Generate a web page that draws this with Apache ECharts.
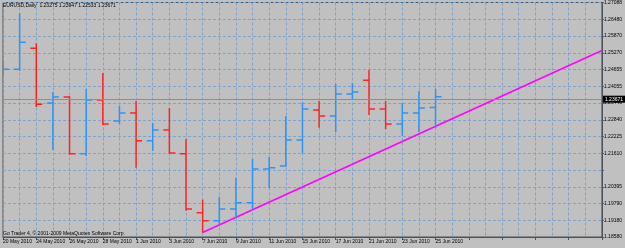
<!DOCTYPE html>
<html>
<head>
<meta charset="utf-8">
<script src="https://cdn.jsdelivr.net/npm/echarts/dist/echarts.min.js"></script>
<style>
html,body{margin:0;padding:0;background:#c0c0c0;}
#chart{width:625px;height:248px;}
</style>
</head>
<body>
<div id="chart"></div>
<script>
// ---- data ----
const dates = ["2010.05.20","2010.05.21","2010.05.24","2010.05.25","2010.05.26","2010.05.27","2010.05.28","2010.05.31","2010.06.01","2010.06.02","2010.06.03","2010.06.04","2010.06.07","2010.06.08","2010.06.09","2010.06.10","2010.06.11","2010.06.14","2010.06.15","2010.06.16","2010.06.17","2010.06.18","2010.06.21","2010.06.22","2010.06.23","2010.06.24","2010.06.25"];
const opens  = [1.2456,1.2467,1.2543,1.2344,1.2366,1.2160,1.2355,1.2279,1.2308,1.2207,1.2246,1.2160,1.1946,1.1917,1.1960,1.1982,1.2105,1.2116,1.2210,1.2319,1.2297,1.2377,1.2427,1.2322,1.2268,1.2308,1.23275];
const highs  = [1.2500,1.2670,1.2561,1.2384,1.2369,1.2395,1.2453,1.2333,1.2351,1.2272,1.2326,1.2214,1.1993,1.2004,1.2073,1.2141,1.2149,1.2297,1.2348,1.2351,1.2413,1.2416,1.2464,1.2351,1.2344,1.2388,1.23947];
const lows   = [1.2445,1.2460,1.2330,1.2174,1.2156,1.2152,1.2264,1.2268,1.2109,1.2170,1.2160,1.1953,1.1874,1.1903,1.1928,1.1957,1.2036,1.2114,1.2163,1.2254,1.2239,1.2355,1.2301,1.2250,1.2225,1.2239,1.22533];
const closes = [1.2467,1.2565,1.2340,1.2366,1.2160,1.2355,1.2268,1.2308,1.2207,1.2246,1.2163,1.1960,1.1917,1.1960,1.1982,1.2105,1.2109,1.2210,1.2322,1.2297,1.2377,1.2384,1.2322,1.2268,1.2308,1.2326,1.23671];
const trendX = [12, 36];
const trendY = [1.1874, 1.2535];
const bidPrice = 1.23671;
const xTickLabels = ["20 May 2010","24 May 2010","26 May 2010","28 May 2010","1 Jun 2010","3 Jun 2010","7 Jun 2010","9 Jun 2010","11 Jun 2010","15 Jun 2010","17 Jun 2010","21 Jun 2010","23 Jun 2010","25 Jun 2010"];
const yTickLabels = ["1.18580","1.19180","1.19790","1.20395","","1.21610","1.22225","1.22840","1.23440","1.24055","1.24655","1.25270","1.25870","1.26480","1.27088"];
const Y_BASE = 1.18580;
const Y_STEP = 0.006077;
const X_MAX = 36;

// ---- style ----
const BLUE = '#2f93f3';
const RED = '#ff2424';
const GRID = '#7ea4c9';
const FRAME = '#4a535c';
const FONT = 'Liberation Sans';
const FS = 5;

const ohlc = dates.map((d, i) => [i, opens[i] - Y_BASE, highs[i] - Y_BASE, lows[i] - Y_BASE, closes[i] - Y_BASE]);
const trend = trendX.map((x, i) => [x, trendY[i] - Y_BASE]);
const n = opens.length - 1;
const titleText = 'EURUSD,Daily  ' + [opens[n], highs[n], lows[n], closes[n]].map(v => v.toFixed(5)).join(' ');

const chart = echarts.init(document.getElementById('chart'), null, {renderer: 'canvas'});
chart.setOption({
  animation: false,
  backgroundColor: '#c0c0c0',
  title: [
    {text: titleText, left: 3, top: 3, padding: 0,
     textStyle: {fontSize: FS, fontWeight: 'normal', color: '#000', fontFamily: FONT}},
    {text: 'Go Trader 4, \u00a9 2001-2009 MetaQuotes Software Corp.', left: 3, top: 231, padding: 0,
     textStyle: {fontSize: FS, fontWeight: 'normal', color: '#000', fontFamily: FONT}}
  ],
  grid: {left: 1.5, right: 19, top: 2, bottom: 11, show: true, borderColor: FRAME, borderWidth: 1, backgroundColor: 'transparent'},
  xAxis: {
    type: 'value', min: 0, max: X_MAX, interval: 2, position: 'bottom',
    axisLine: {show: true, onZero: false, lineStyle: {color: FRAME, width: 1}},
    axisTick: {show: true, length: 3, lineStyle: {color: FRAME}},
    minorTick: {show: false, splitNumber: 2},
    axisLabel: {
      show: true, margin: 2, align: 'left', fontSize: FS, color: '#000', fontFamily: FONT,
      formatter: v => { const k = Math.round(v / 2); return (k < xTickLabels.length && v <= n) ? xTickLabels[k] : ''; }
    },
    splitLine: {show: true, lineStyle: {color: GRID, type: [3, 2], width: 1}},
    minorSplitLine: {show: true, lineStyle: {color: GRID, type: [3, 2], width: 1}}
  },
  yAxis: {
    type: 'value', position: 'right', min: 0, max: 14 * Y_STEP, interval: Y_STEP, scale: false,
    axisLine: {show: true, onZero: false, lineStyle: {color: FRAME, width: 1}},
    axisTick: {show: true, length: 2, lineStyle: {color: FRAME}},
    axisLabel: {
      show: true, margin: 2, fontSize: FS, color: '#000', fontFamily: FONT,
      formatter: v => yTickLabels[Math.round(v / Y_STEP)] || ''
    },
    splitLine: {show: true, lineStyle: {color: GRID, type: [3, 2], width: 1}}
  },
  series: [
    {
      type: 'line', data: trend, symbol: 'none', silent: true, z: 1,
      lineStyle: {color: '#ff00ff', width: 1.6},
      markLine: {
        silent: true, symbol: 'none', animation: false,
        data: [{yAxis: bidPrice - Y_BASE}],
        lineStyle: {color: '#7a92aa', type: 'solid', width: 1},
        label: {show: true, position: 'end', distance: 1, formatter: bidPrice.toFixed(5),
                backgroundColor: '#000', color: '#fff', fontSize: FS, fontFamily: FONT, padding: [1, 2]}
      }
    },
    {
      type: 'custom', data: ohlc, clip: true, z: 3,
      encode: {x: 0, y: [1, 2, 3, 4]},
      renderItem: function (params, api) {
        const x = api.value(0);
        const o = api.coord([x, api.value(1)]);
        const h = api.coord([x, api.value(2)]);
        const l = api.coord([x, api.value(3)]);
        const c = api.coord([x, api.value(4)]);
        const color = api.value(4) >= api.value(1) ? BLUE : RED;
        const style = {stroke: color, lineWidth: 1.5, fill: null};
        return {type: 'group', children: [
          {type: 'line', shape: {x1: h[0], y1: h[1], x2: l[0], y2: l[1]}, style: style},
          {type: 'line', shape: {x1: o[0] - 6, y1: o[1], x2: o[0], y2: o[1]}, style: style},
          {type: 'line', shape: {x1: c[0], y1: c[1], x2: c[0] + 6, y2: c[1]}, style: style}
        ]};
      }
    }
  ]
});
</script>
</body>
</html>
